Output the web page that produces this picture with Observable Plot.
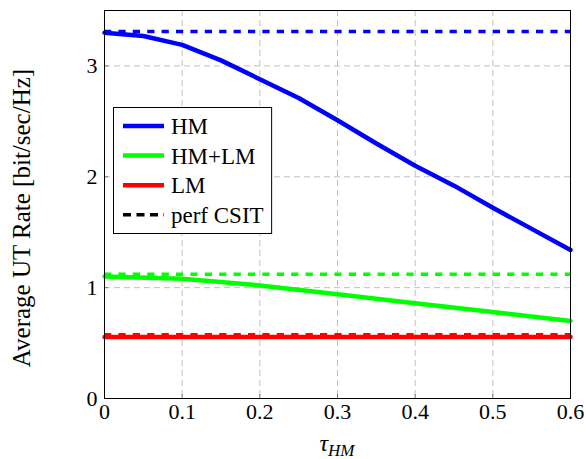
<!DOCTYPE html>
<html>
<head>
<meta charset="utf-8">
<script src="https://cdn.jsdelivr.net/npm/d3@7"></script>
<script src="https://cdn.jsdelivr.net/npm/@observablehq/plot@0.6"></script>
<style>
  html, body { margin: 0; padding: 0; background: #fff; }
  #wrap { position: relative; width: 586px; height: 459px; }
  svg text { font-family: 'Liberation Serif', 'DejaVu Serif', serif; }
</style>
</head>
<body>
<div id="wrap"></div>
<script>
const tau = [0, 0.05, 0.1, 0.15, 0.2, 0.25, 0.3, 0.35, 0.4, 0.45, 0.5, 0.55, 0.6];
const hmRate = [3.30, 3.27, 3.19, 3.05, 2.88, 2.71, 2.51, 2.30, 2.10, 1.92, 1.72, 1.53, 1.34];
const tauCoarse = [0, 0.1, 0.2, 0.3, 0.4, 0.5, 0.6];
const hmlmRate = [1.10, 1.08, 1.02, 0.94, 0.86, 0.78, 0.70];
const lmRate = [0.555, 0.555, 0.555, 0.555, 0.555, 0.555, 0.555];
const seriesNames = ["HM", "HM+LM", "LM"];
const seriesColors = ["#0000ff", "#00ff00", "#ff0000"];
const perfCsit = [3.31, 1.12, 0.575];
const perfLabel = "perf CSIT";
const xTicks = [0, 0.1, 0.2, 0.3, 0.4, 0.5, 0.6];
const yTicks = [0, 1, 2, 3];

const hm = tau.map((t, i) => ({x: t, y: hmRate[i]}));
const hmlm = tauCoarse.map((t, i) => ({x: t, y: hmlmRate[i]}));
const lm = tauCoarse.map((t, i) => ({x: t, y: lmRate[i]}));
const perf = perfCsit.map((v, i) => ({y: v, c: seriesColors[i]}));

const serif = "'Liberation Serif', 'DejaVu Serif', serif";
const plot = Plot.plot({
  width: 586, height: 459,
  marginLeft: 104, marginRight: 16, marginTop: 10, marginBottom: 61,
  style: {fontFamily: serif, fontSize: "22px", background: "#fff", color: "#000"},
  x: {domain: [0, 0.6]},
  y: {domain: [0, 3.5]},
  marks: [
    Plot.gridX(xTicks, {stroke: "#c0c0c0", strokeOpacity: 1, strokeDasharray: "6,4"}),
    Plot.gridY(yTicks, {stroke: "#c0c0c0", strokeOpacity: 1, strokeDasharray: "6,4"}),
    Plot.axisX(xTicks, {tickSize: 0, tickPadding: 5, tickFormat: d => d === 0 ? "0" : d3.format(".1f")(d), label: null}),
    Plot.axisY(yTicks, {tickSize: 0, tickPadding: 7, tickFormat: d3.format("d"), label: null}),
    Plot.axisX(xTicks, {tickSize: -4, tickFormat: () => "", stroke: "#777", label: null}),
    Plot.axisY(yTicks, {tickSize: -4, tickFormat: () => "", stroke: "#777", label: null}),
    Plot.ruleY(perf, {y: "y", stroke: "c", strokeWidth: 3.5, strokeDasharray: "7.2,7.2"}),
    Plot.line(lm, {x: "x", y: "y", stroke: seriesColors[2], strokeWidth: 4.5}),
    Plot.line(hmlm, {x: "x", y: "y", stroke: seriesColors[1], strokeWidth: 4.5}),
    Plot.line(hm, {x: "x", y: "y", stroke: seriesColors[0], strokeWidth: 4.5}),
    Plot.frame({stroke: "#000", strokeWidth: 1})
  ]
});
const wrap = document.getElementById("wrap");
wrap.appendChild(plot);
const svg = d3.select(plot);

// y-axis label
svg.append("text")
  .attr("transform", "translate(24,218) rotate(-90)")
  .attr("text-anchor", "middle").attr("dominant-baseline", "middle")
  .attr("font-size", 25).attr("fill", "#000")
  .text("Average UT Rate [bit/sec/Hz]");

// x-axis label with subscript
const t = svg.append("text")
  .attr("x", 337).attr("y", 451)
  .attr("text-anchor", "middle").attr("fill", "#000")
  .attr("font-size", 24).attr("font-style", "italic");
t.append("tspan").text("τ");
t.append("tspan").attr("font-size", 17).attr("dy", 5).text("HM");

// legend
const entries = seriesNames.map((n, i) => ({n, c: seriesColors[i], dash: null}))
  .concat([{n: perfLabel, c: "#000", dash: "8,5.5"}]);
const lg = svg.append("g");
const box = lg.append("rect").attr("x", 113.5).attr("y", 107.5).attr("height", 126)
  .attr("fill", "#fff").attr("stroke", "#000").attr("stroke-width", 1);
let maxW = 0;
entries.forEach((e, i) => {
  const cy = 126 + i * 29.6;
  lg.append("line").attr("x1", 123).attr("x2", 164).attr("y1", cy).attr("y2", cy)
    .attr("stroke", e.c).attr("stroke-width", e.dash ? 3.5 : 4.5)
    .attr("stroke-dasharray", e.dash);
  const tx = lg.append("text").attr("x", 171).attr("y", cy).attr("dy", "0.35em")
    .attr("text-anchor", "start")
    .attr("font-size", 23).attr("fill", "#000").text(e.n);
  maxW = Math.max(maxW, tx.node().getComputedTextLength());
});
box.attr("width", 171 + maxW + 8 - 113.5);
</script>
</body>
</html>
